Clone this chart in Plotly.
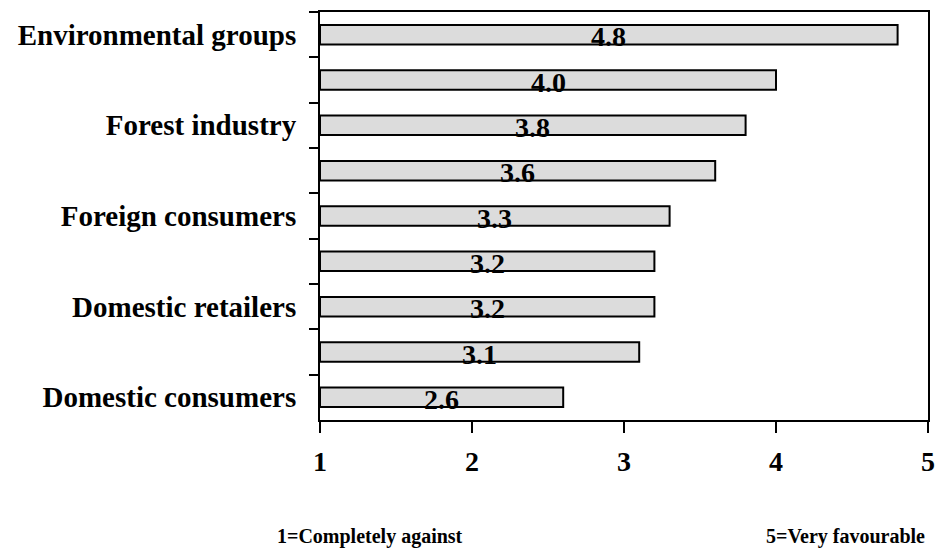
import plotly.graph_objects as go

categories = ["Environmental groups", " ", "Forest industry", "  ", "Foreign consumers",
              "   ", "Domestic retailers", "    ", "Domestic consumers"]
values = [4.8, 4.0, 3.8, 3.6, 3.3, 3.2, 3.2, 3.1, 2.6]
x_ticks = [1, 2, 3, 4, 5]
scale_low = "1=Completely against"
scale_high = "5=Very favourable"

FONT = "Liberation Serif"
base = 1

fig = go.Figure()
fig.add_trace(go.Bar(
    y=categories,
    x=[v - base for v in values],
    base=base,
    orientation="h",
    width=0.43,
    marker=dict(color="#dcdcdc", line=dict(color="black", width=2)),
    hoverinfo="skip",
))

for c, v in zip(categories, values):
    fig.add_annotation(
        x=(base + v) / 2, y=c, xref="x", yref="y",
        text=f"{v:.1f}", showarrow=False, yshift=-2,
        font=dict(family=FONT, size=28, color="black", weight="bold"),
    )

fig.add_annotation(x=0.082, y=-0.318, xref="paper", yref="paper", text=scale_low,
                   showarrow=False, xanchor="center", yanchor="bottom",
                   font=dict(family=FONT, size=20, color="black", weight="bold"))
fig.add_annotation(x=0.865, y=-0.318, xref="paper", yref="paper", text=scale_high,
                   showarrow=False, xanchor="center", yanchor="bottom",
                   font=dict(family=FONT, size=20, color="black", weight="bold"))

fig.update_layout(
    width=938, height=552,
    margin=dict(l=320, r=10, t=12, b=132, autoexpand=False),
    paper_bgcolor="white", plot_bgcolor="white",
    showlegend=False,
    xaxis=dict(
        range=[1, 5], tickvals=x_ticks, ticktext=[str(t) for t in x_ticks],
        automargin=False,
        showgrid=False, zeroline=False,
        showline=True, linecolor="black", linewidth=2, mirror=True,
        ticks="outside", ticklen=11, tickwidth=2, tickcolor="black",
        ticklabelstandoff=4,
        tickfont=dict(family=FONT, size=28, color="black", weight="bold"),
    ),
    yaxis=dict(
        type="category", categoryorder="array", categoryarray=categories,
        autorange="reversed", automargin=False,
        showgrid=False, zeroline=False,
        showline=True, linecolor="black", linewidth=2, mirror=True,
        ticks="outside", ticklen=9, tickwidth=2, tickcolor="black",
        tickson="boundaries", ticklabelstandoff=16,
        tickfont=dict(family=FONT, size=29, color="black", weight="bold"),
    ),
)

fig.write_html("out.html")
